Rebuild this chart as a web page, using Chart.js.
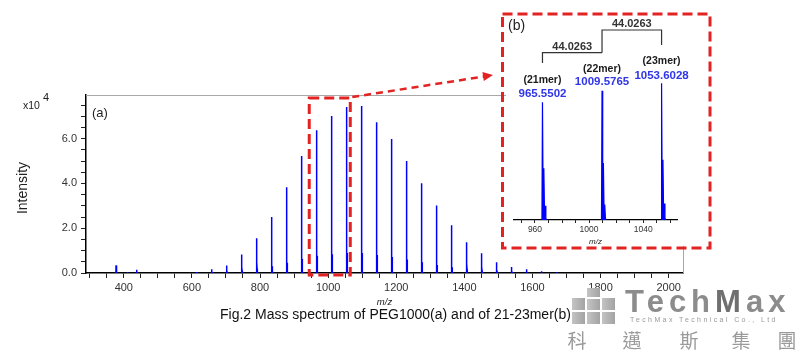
<!DOCTYPE html>
<html>
<head>
<meta charset="utf-8">
<script src="https://cdn.jsdelivr.net/npm/chart.js@4.4.1/dist/chart.umd.min.js"></script>
<style>
   body { margin: 0; background: #fff; font-family: "Liberation Sans", Arial, sans-serif; }
   #wrap { position: relative; width: 801px; height: 351px; overflow: hidden; }
   #main { position: absolute; left: 0; top: 0; }
   #inset { position: absolute; left: 506px; top: 17px; background: #fff; }
   .caption { position: absolute; left: 220px; top: 306px; font-size: 14px; color: #111; white-space: nowrap; }
   .blk { position: absolute; background: linear-gradient(90deg, #c4c4c4, #a3a3a3); }
   .brand { position: absolute; left: 625px; top: 286px; font-size: 31px; line-height: 31px; font-weight: bold; letter-spacing: 5px; color: #8c8c8c; white-space: nowrap; }
   .brand b { color: #6f6f6f; }
   .tag { position: absolute; left: 630px; top: 316px; font-size: 7px; line-height: 7px; letter-spacing: 2.4px; color: #9a9a9a; white-space: nowrap; }
   .cjk { position: absolute; top: 329px; font-family: "Noto Sans CJK TC", sans-serif; font-size: 19px; line-height: 21px; color: #9a9a9a; transform: translateX(-50%); }
</style>
</head>
<body>
<div id="wrap">
   <canvas id="main" width="801" height="351"></canvas>
   <canvas id="inset" width="184" height="229"></canvas>
   <div class="caption">Fig.2 Mass spectrum of PEG1000(a) and of 21-23mer(b)</div>
   <!-- logo -->
   <div class="blk" style="left:572px;top:298px;width:13px;height:12px"></div>
   <div class="blk" style="left:572px;top:312px;width:13px;height:12px"></div>
   <div class="blk" style="left:587px;top:288px;width:13px;height:9px"></div>
   <div class="blk" style="left:587px;top:299px;width:13px;height:11px"></div>
   <div class="blk" style="left:587px;top:312px;width:13px;height:12px"></div>
   <div class="blk" style="left:602px;top:298px;width:13px;height:12px"></div>
   <div class="blk" style="left:602px;top:312px;width:13px;height:12px"></div>
   <div class="brand">Tech<b>M</b>ax</div>
   <div class="tag">TechMax Technical Co., Ltd</div>
   <div class="cjk" style="left:577px">科</div>
   <div class="cjk" style="left:632px">邁</div>
   <div class="cjk" style="left:689px">斯</div>
   <div class="cjk" style="left:741px">集</div>
   <div class="cjk" style="left:787px">團</div>
</div>
<script>
// data

// peak centres (m/z)
let peakMz = [377.2, 410.1, 437.2, 613.3, 657.4, 701.4, 745.4, 789.4, 833.5, 877.5, 921.5,
   965.55, 1009.58, 1053.6, 1097.63, 1141.66, 1185.68, 1229.71, 1273.74, 1317.76,
   1361.79, 1405.82, 1449.84, 1493.87, 1537.89, 1581.92, 1625.95, 1669.97];
// peak heights (x10^4)
let peakInt = [0.34, 0.05, 0.15, 0.05, 0.17, 0.34, 0.83, 1.55, 2.5, 3.83, 5.22,
   6.38, 7.01, 7.41, 7.46, 6.73, 5.98, 5.0, 4.01, 3.01,
   2.13, 1.37, 0.88, 0.48, 0.27, 0.17, 0.08, 0.03];
// isotope lines of every peak: offset in m/z and height relative to the main line
let isoOffset = [0, 1, 2];
let isoRatio = [1, 0.44, 0.12];

// tick labels
let xTickLabels = [400, 600, 800, 1000, 1200, 1400, 1600, 1800, 2000];
let yTickLabels = [0, 2, 4, 6];
let insetTickLabels = [960, 1000, 1040];

// inset (b)
let insetRange = [944.5, 1065];
let merLabels = ["(21mer)", "(22mer)", "(23mer)"];
let merMz = [965.5502, 1009.5765, 1053.6028];
let merDelta = ["44.0263", "44.0263"];

Chart.defaults.font.family = '"Liberation Sans", Arial, sans-serif';
Chart.defaults.color = "#333";

// spectrum profile: one little spike group per peak, gaps between peaks
function profile() {
   let pts = [];
   peakMz.forEach((m, i) => {
      let h = peakInt[i];
      pts.push({ x: m - 0.4, y: 0 });
      isoOffset.forEach((o, k) => {
         pts.push({ x: m + o, y: h * isoRatio[k] });
         pts.push({ x: m + o + 0.5, y: h * isoRatio[k] * 0.12 });
      });
      pts.push({ x: m + 3, y: 0 });
      pts.push({ x: m + 3.5, y: null });
   });
   return pts;
}

// main chart (a)
let mainDecor = {
   id: "mainDecor",
   afterDraw(chart) {
      let c = chart.ctx;
      let a = chart.chartArea;
      let xs = chart.scales.x;
      c.save();
      // grey frame top and right
      c.strokeStyle = "#a8a8a8";
      c.lineWidth = 1;
      c.beginPath();
      c.moveTo(a.left, a.top + 0.5);
      c.lineTo(a.right + 0.5, a.top + 0.5);
      c.lineTo(a.right + 0.5, a.bottom);
      c.stroke();

      c.fillStyle = "#222";
      c.font = '10.5px "Liberation Sans"';
      c.fillText("x10", 23, 109);
      c.font = '11px "Liberation Sans"';
      c.fillText("4", 43, 101);
      c.font = '13px "Liberation Sans"';
      c.fillText("(a)", 92, 117);
      c.font = 'italic 9.5px "Liberation Sans"';
      c.textAlign = "center";
      c.fillText("m/z", (a.left + a.right) / 2, 305);

      c.save();
      c.translate(23, 188);
      c.rotate(-Math.PI / 2);
      c.textBaseline = "middle";
      c.font = '14px "Liberation Sans"';
      c.fillText("Intensity", 0, 0);
      c.restore();

      // red dashed boxes and arrow
      c.strokeStyle = "#e32222";
      c.fillStyle = "#e32222";
      c.lineWidth = 3;
      c.setLineDash([10, 5]);
      let bl = xs.getPixelForValue(insetRange[0]);
      let br = xs.getPixelForValue(insetRange[1]);
      c.strokeRect(bl, 98, br - bl, 177);
      c.strokeRect(502.5, 14, 207.5, 234);
      c.lineWidth = 2.5;
      c.setLineDash([7, 5]);
      c.beginPath();
      c.moveTo(br + 2, 97);
      c.lineTo(484, 76.5);
      c.stroke();
      c.setLineDash([]);
      let ang = Math.atan2(75 - 97, 493 - (br + 2));
      c.save();
      c.translate(493, 75);
      c.rotate(ang);
      c.beginPath();
      c.moveTo(0, 0);
      c.lineTo(-10, -4.5);
      c.lineTo(-10, 4.5);
      c.closePath();
      c.fill();
      c.restore();
      c.restore();
   },
};

new Chart("main", {
   type: "line",
   data: {
      datasets: [
         {
            data: profile(),
            borderColor: "#0000ff",
            backgroundColor: "#0000ff",
            borderWidth: 1.5,
            pointRadius: 0,
            fill: "origin",
            spanGaps: false,
            tension: 0,
         },
      ],
   },
   options: {
      responsive: false,
      animation: false,
      layout: { padding: { left: 0, top: 95, right: 118, bottom: 48 } },
      plugins: { legend: { display: false }, tooltip: { enabled: false } },
      scales: {
         x: {
            type: "linear",
            bounds: "ticks",
            min: 289,
            max: 2042,
            afterFit: (s) => { s.height = 30; },
            ticks: {
               stepSize: 50,
               autoSkip: false,
               maxRotation: 0,
               includeBounds: false,
               padding: 3,
               font: { size: 11 },
               callback: (v) => (xTickLabels.includes(v) ? String(v) : ""),
            },
            grid: { drawOnChartArea: false, tickLength: 5, color: "#222" },
            border: { color: "#000", width: 1.5 },
         },
         y: {
            min: 0,
            max: 7.95,
            afterFit: (s) => { s.width = 86; },
            ticks: {
               stepSize: 0.5,
               autoSkip: false,
               includeBounds: false,
               padding: 4,
               font: { size: 11 },
               callback: (v) => (yTickLabels.includes(v) ? v.toFixed(1) : ""),
            },
            grid: { drawOnChartArea: false, tickLength: 5, color: "#222" },
            border: { color: "#000", width: 1.5 },
         },
      },
   },
   plugins: [mainDecor],
});

// inset (b)
let insetDecor = {
   id: "insetDecor",
   afterDraw(chart) {
      let c = chart.ctx;
      let xs = chart.scales.x;
      let px = merMz.map((m) => xs.getPixelForValue(m));
      c.save();
      c.fillStyle = "#222";
      c.font = '14px "Liberation Sans"';
      c.fillText("(b)", 2, 13);

      c.textAlign = "center";
      c.textBaseline = "middle";
      let labelY = [63, 52, 44];
      let numY = [77, 65, 59];
      merLabels.forEach((t, i) => {
         c.fillStyle = "#1a1a1a";
         c.font = 'bold 10.5px "Liberation Sans"';
         c.fillText(t, px[i], labelY[i]);
         c.fillStyle = "#2f35e8";
         c.font = 'bold 11.5px "Liberation Sans"';
         c.fillText(String(merMz[i].toFixed(4)), px[i], numY[i]);
      });

      // brackets
      c.strokeStyle = "#333";
      c.lineWidth = 1.2;
      c.beginPath();
      c.moveTo(px[0], 46);
      c.lineTo(px[0], 35.7);
      c.lineTo(px[1], 35.7);
      c.moveTo(px[1], 35.7);
      c.lineTo(px[1], 13);
      c.lineTo(px[2], 13);
      c.lineTo(px[2], 28);
      c.stroke();
      c.fillStyle = "#333";
      c.font = 'bold 11px "Liberation Sans"';
      c.fillText(merDelta[0], (px[0] + px[1]) / 2, 30);
      c.fillText(merDelta[1], (px[1] + px[2]) / 2, 6.5);

      c.fillStyle = "#222";
      c.font = 'italic 8px "Liberation Sans"';
      c.fillText("m/z", (chart.chartArea.left + chart.chartArea.right) / 2, 225);
      c.restore();
   },
};

new Chart("inset", {
   type: "line",
   data: {
      datasets: [
         {
            data: profile(),
            borderColor: "#0000ff",
            backgroundColor: "#0000ff",
            borderWidth: 1.2,
            pointRadius: 0,
            fill: "origin",
            spanGaps: false,
            tension: 0,
         },
      ],
   },
   options: {
      responsive: false,
      animation: false,
      layout: { padding: { left: 8, top: 0, right: 13, bottom: 4 } },
      plugins: { legend: { display: false }, tooltip: { enabled: false } },
      scales: {
         x: {
            type: "linear",
            min: insetRange[0],
            max: insetRange[1],
            afterFit: (s) => { s.height = 22; },
            ticks: {
               stepSize: 10,
               autoSkip: false,
               maxRotation: 0,
               includeBounds: false,
               padding: 2,
               font: { size: 8.5 },
               callback: (v) => (insetTickLabels.includes(v) ? String(v) : ""),
            },
            grid: { drawOnChartArea: false, tickLength: 3, color: "#222" },
            border: { color: "#000", width: 1.2 },
         },
         y: { display: false, min: 0, max: 11.0 },
      },
   },
   plugins: [insetDecor],
});
</script>
</body>
</html>
